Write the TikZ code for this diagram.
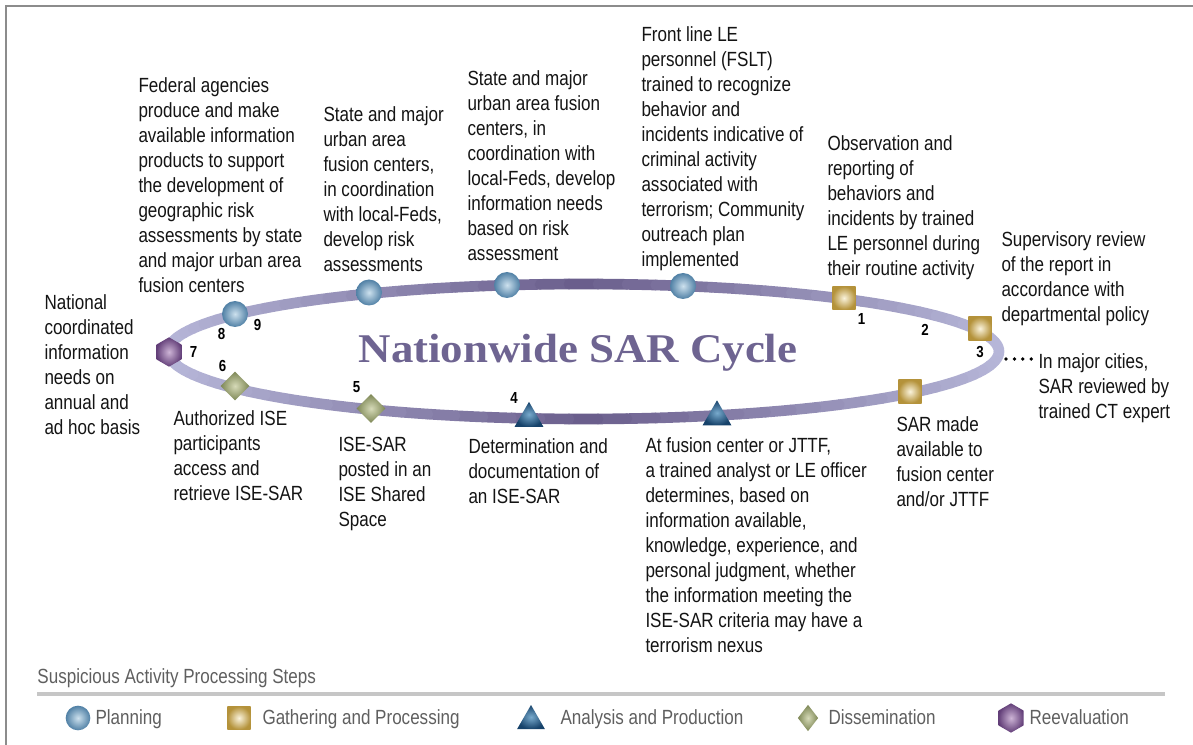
\documentclass[tikz,border=0pt]{standalone}
\usepackage{fontspec}
\setmainfont[FakeStretch=0.83]{Liberation Sans}
\newfontfamily\titlefont[FakeStretch=1.1]{Liberation Serif}
\usetikzlibrary{shapes.geometric}

\definecolor{ringlight}{RGB}{182,182,216}
\definecolor{ringdark}{RGB}{106,94,140}
\definecolor{titlepurple}{RGB}{110,100,145}
\definecolor{framegray}{RGB}{140,140,140}
\definecolor{rulegray}{RGB}{198,198,198}
\definecolor{leggray}{RGB}{95,95,95}
\definecolor{bodyblack}{RGB}{20,20,20}
\definecolor{planout}{RGB}{80,128,165}
\definecolor{planin}{RGB}{205,225,238}
\definecolor{gathout}{RGB}{180,146,58}
\definecolor{gathin}{RGB}{250,243,220}
\definecolor{anaout}{RGB}{22,66,106}
\definecolor{anain}{RGB}{120,170,205}
\definecolor{disout}{RGB}{124,134,84}
\definecolor{disin}{RGB}{214,218,184}
\definecolor{reout}{RGB}{98,62,120}
\definecolor{rein}{RGB}{205,180,214}

\newcommand{\bodysize}{\fontsize{15.4pt}{18.75pt}\selectfont}
\newcommand{\numsize}{\fontsize{12pt}{14pt}\selectfont\bfseries}
\newcommand{\headsize}{\titlefont\fontsize{30.6pt}{36pt}\selectfont\bfseries}

\tikzset{every picture/.style={line width=0.75pt}}
\tikzset{
  txt/.style={anchor=north west, inner sep=0.75pt, align=left, font=\bodysize, text=bodyblack},
  leg/.style={anchor=base west, inner sep=0pt, font=\bodysize, text=leggray},
  num/.style={inner sep=0pt, font=\numsize},
  ring/.style={line width=8pt, line cap=round},
  plan/.style={circle, inner sep=0pt, minimum size=19.5pt, inner color=planin, outer color=planout},
  gath/.style={rectangle, inner sep=0pt, minimum size=17.5pt, inner color=gathin, outer color=gathout},
  ana/.style={regular polygon, regular polygon sides=3, inner sep=0pt, minimum size=25pt, inner color=anain, outer color=anaout},
  dis/.style={diamond, inner sep=0pt, minimum width=22pt, minimum height=22pt, inner color=disin, outer color=disout},
  reeval/.style={regular polygon, regular polygon sides=6, shape border rotate=30, inner sep=0pt, minimum size=22pt, inner color=rein, outer color=reout},
  leader/.style={line width=2.8pt, line cap=round, dash pattern=on 0pt off 6.3pt},
}

\begin{document}
\begin{tikzpicture}[x=0.75pt,y=0.75pt,yscale=-1,xscale=1]
\useasboundingbox (0,0) rectangle (1193,745);

%Frame
\draw [framegray, line width=1.9pt] (1193,6) -- (6,6) -- (6,745) ;

%Ring: shaded cycle
\foreach \a in {0,4,...,356}{
  \pgfmathtruncatemacro{\p}{100*(1-abs(cos(\a+2)))}
  \draw [ring, draw=ringdark!\p!ringlight] plot [domain=\a:\a+4, samples=3] ({583.5+415.5*cos(\x)},{351.5+67.5*sin(\x)}) ;
}

% Title
\draw (578,363) node (title) [anchor=base][inner sep=0pt] [font=\headsize, text=titlepurple] {Nationwide SAR Cycle};

%Shape: Planning
\node (p8) [plan] at (235,314) {};
\node (p9a) [plan] at (369,292.5) {};
\node (p9b) [plan] at (507,285) {};
\node (p9c) [plan] at (683,286) {};
%Shape: Gathering
\node (g1) [gath] at (844,298) {};
\node (g3) [gath] at (980,328.5) {};
\node (g3b) [gath] at (910,391.5) {};
%Shape: Analysis
\node (a4) [ana] at (529,418.5) {};
\node (a4b) [ana] at (717,417) {};
%Shape: Dissemination
\node (d5) [dis] at (371,408.5) {};
\node (d6) [dis] at (235,386) {};
%Shape: Reevaluation
\node (r7) [reeval] at (169,352) {};

% Step numbers
\draw (861.5,318.5) node (n1) [num] {1};
\draw (925,330) node (n2) [num] {2};
\draw (980,352) node (n3) [num] {3};
\draw (514,397.5) node (n4) [num] {4};
\draw (356.5,387.5) node (n5) [num] {5};
\draw (222.5,366) node (n6) [num] {6};
\draw (193.5,352) node (n7) [num] {7};
\draw (221.5,333.5) node (n8) [num] {8};
\draw (257.5,324.5) node (n9) [num] {9};

% Text Node
\draw (137,76) node (fedtxt) [txt] {Federal agencies\\produce and make\\available information\\products to support\\the development of\\geographic risk\\assessments by state\\and major urban area\\fusion centers};
% Text Node
\draw (322,105.5) node (risktxt) [txt] {State and major\\urban area\\fusion centers,\\in coordination\\with local-Feds,\\develop risk\\assessments};
% Text Node
\draw (466,69) node (needtxt) [txt] {State and major\\urban area fusion\\centers, in\\coordination with\\local-Feds, develop\\information needs\\based on risk\\assessment};
% Text Node
\draw (640,25) node (fslttxt) [txt] {Front line LE\\personnel (FSLT)\\trained to recognize\\behavior and\\incidents indicative of\\criminal activity\\associated with\\terrorism; Community\\outreach plan\\implemented};
% Text Node
\draw (826,134) node (obstxt) [txt] {Observation and\\reporting of\\behaviors and\\incidents by trained\\LE personnel during\\their routine activity};
% Text Node
\draw (1000,230) node (suptxt) [txt] {Supervisory review\\of the report in\\accordance with\\departmental policy};
% Text Node
\draw (1037,352) node (citytxt) [txt] {In major cities,\\SAR reviewed by\\trained CT expert};
% Text Node
\draw (895,415) node (sartxt) [txt] {SAR made\\available to\\fusion center\\and/or JTTF};
% Text Node
\draw (644,436) node (jtttxt) [txt] {At fusion center or JTTF,\\a trained analyst or LE officer\\determines, based on\\information available,\\knowledge, experience, and\\personal judgment, whether\\the information meeting the\\ISE-SAR criteria may have a\\terrorism nexus};
% Text Node
\draw (467,437) node (dettxt) [txt] {Determination and\\documentation of\\an ISE-SAR};
% Text Node
\draw (337,436) node (posttxt) [txt] {ISE-SAR\\posted in an\\ISE Shared\\Space};
% Text Node
\draw (172,409) node (autxt) [txt] {Authorized ISE\\participants\\access and\\retrieve ISE-SAR};
% Text Node
\draw (43,293) node (nattxt) [txt] {National\\coordinated\\information\\needs on\\annual and\\ad hoc basis};

%Dotted leader
\coordinate (leadA) at (1006,359);
\coordinate (leadB) at (1031.5,359);
\draw [leader] (leadA) -- (leadB) ;

% Legend
\draw (37,683) node (legtitle) [leg] {Suspicious Activity Processing Steps};
\draw [rulegray, line width=3pt] (37,694) -- (1165,694) ;
\node (lplan) [plan, minimum size=18.5pt] at (78,718) {};
\draw (95,724) node (lplantxt) [leg] {Planning};
\node (lgath) [gath] at (239,718) {};
\draw (262,724) node (lgathtxt) [leg] {Gathering and Processing};
\node (lana) [ana, minimum size=24pt] at (531,721) {};
\draw (560,724) node (lanatxt) [leg] {Analysis and Production};
\node (ldis) [dis, minimum width=15.5pt, minimum height=20pt] at (808,718) {};
\draw (828,724) node (ldistxt) [leg] {Dissemination};
\node (lre) [reeval] at (1011,718) {};
\draw (1029,724) node (lretxt) [leg] {Reevaluation};

\end{tikzpicture}
\end{document}
